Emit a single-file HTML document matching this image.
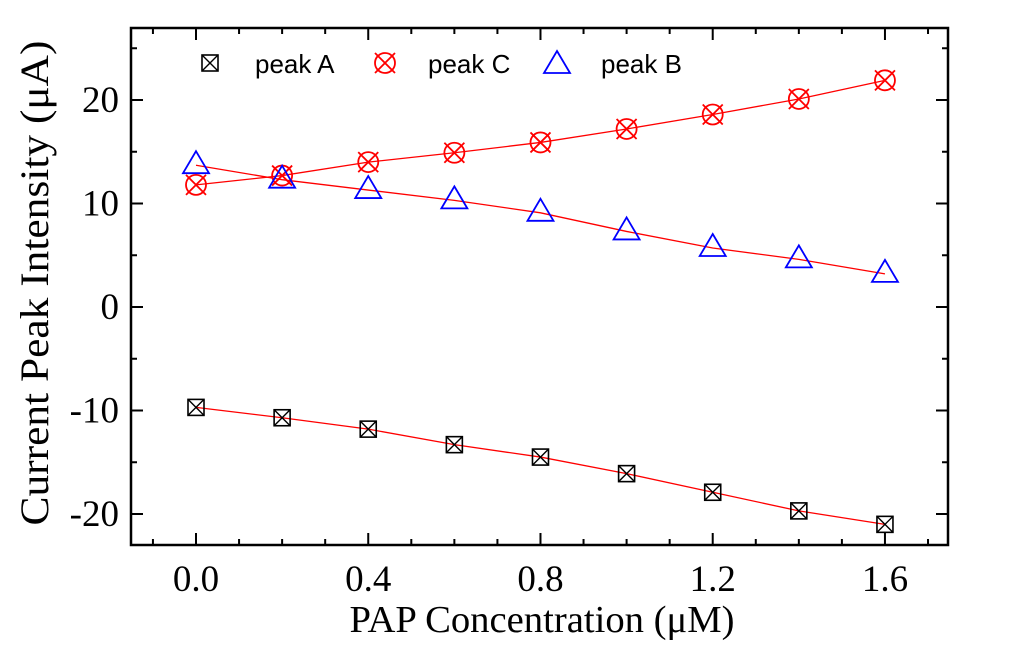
<!DOCTYPE html>
<html><head><meta charset="utf-8"><style>body{margin:0;background:#fff}svg{display:block}</style></head><body>
<svg id="chart" width="1024" height="654" xmlns="http://www.w3.org/2000/svg"></svg>
<script>
const concentrations=[0,0.2,0.4,0.6,0.8,1.0,1.2,1.4,1.6];
const peakA=[-9.7,-10.7,-11.8,-13.3,-14.5,-16.1,-17.9,-19.7,-21.0];
const peakC=[11.8,12.7,14.0,14.9,15.9,17.2,18.6,20.1,21.9];
const peakB=[13.7,12.3,11.3,10.3,9.1,7.3,5.7,4.6,3.2];
const xTicks=["0.0","0.4","0.8","1.2","1.6"];
const xTickVals=[0,0.4,0.8,1.2,1.6];
const yTickVals=[-20,-10,0,10,20];
const NS="http://www.w3.org/2000/svg";
const svg=document.getElementById('chart');
const L=131,R=948,T=28,B=545;
const X=v=>196+v*430.6;
const Y=v=>307-v*10.35;
function mk(tag,attrs,parent){const e=document.createElementNS(NS,tag);for(const k in attrs)e.setAttribute(k,attrs[k]);(parent||svg).appendChild(e);return e;}
const frame=mk('rect',{x:L,y:T,width:R-L,height:B-T,fill:'none',stroke:'#000','stroke-width':2.5});


for(let v=-0.1;v<=1.71;v+=0.1){const vv=Math.round(v*10)/10;const major=Math.abs(Math.round(vv/0.4)*0.4-vv)<1e-6;const len=major?12:6;const x=X(vv);
 const t=mk('path',{d:`M${x},${B}V${B-len}M${x},${T}V${T+len}`,stroke:'#000','stroke-width':2});
 
 }
xTickVals.forEach((v,i)=>{const t=mk('text',{x:X(v),y:591,'text-anchor':'middle','font-family':'Liberation Serif, serif','font-size':37});t.textContent=xTicks[i];
 
 });
for(let v=-20;v<=25;v+=5){const major=v%10===0;const len=major?12:6;const y=Y(v);
 const t=mk('path',{d:`M${L},${y}H${L+len}M${R},${y}H${R-len}`,stroke:'#000','stroke-width':2});
 
 }
yTickVals.forEach(v=>{const t=mk('text',{x:119,y:Y(v)+12,'text-anchor':'end','font-family':'Liberation Serif, serif','font-size':37});t.textContent=String(v);
 
 });
const xt=mk('text',{x:542,y:632,'text-anchor':'middle','font-family':'Liberation Serif, serif','font-size':38,textLength:385,lengthAdjust:'spacingAndGlyphs'});xt.textContent='PAP Concentration (μM)';


const yt=mk('text',{x:0,y:0,transform:'translate(48,283) rotate(-90)','text-anchor':'middle','font-family':'Liberation Serif, serif','font-size':40,textLength:485,lengthAdjust:'spacingAndGlyphs'});yt.textContent='Current Peak Intensity (μA)';


function marker(kind,cx,cy,g){
 if(kind==='A'){mk('rect',{x:cx-8,y:cy-8,width:16,height:16,fill:'none',stroke:'#000','stroke-width':1.6},g);mk('path',{d:`M${cx-8},${cy-8}L${cx+8},${cy+8}M${cx+8},${cy-8}L${cx-8},${cy+8}`,stroke:'#000','stroke-width':1.4},g);}
 else if(kind==='C'){mk('circle',{cx,cy,r:10,fill:'none',stroke:'#f00','stroke-width':1.8},g);mk('path',{d:`M${cx-10},${cy-10}L${cx+10},${cy+10}M${cx+10},${cy-10}L${cx-10},${cy+10}`,stroke:'#f00','stroke-width':1.8},g);}
 else {mk('path',{d:`M${cx},${cy-14}L${cx+13},${cy+8}H${cx-13}Z`,fill:'none',stroke:'#00f','stroke-width':1.8},g);}
}
[['A',peakA,'series-peak-a'],['C',peakC,'series-peak-c'],['B',peakB,'series-peak-b']].forEach(([k,arr,name])=>{
 const g=mk('g',{});
 
 
 const line=mk('polyline',{points:arr.map((v,i)=>X(concentrations[i])+','+Y(v)).join(' '),fill:'none',stroke:'#f00','stroke-width':1.3},g);
 
 
 arr.forEach((v,i)=>marker(k,X(concentrations[i]),Y(v),g));
});
const leg=mk('g',{});


[['A',210,255,'peak A'],['C',385,428,'peak C'],['B',557,601,'peak B']].forEach(([k,mx,tx,label])=>{
 marker(k,mx,k==='B'?65:63,leg);
 const t=mk('text',{x:tx,y:73,'font-family':'Liberation Sans, sans-serif','font-size':26},leg);t.textContent=label;
 
 
});
</script>
</body></html>
